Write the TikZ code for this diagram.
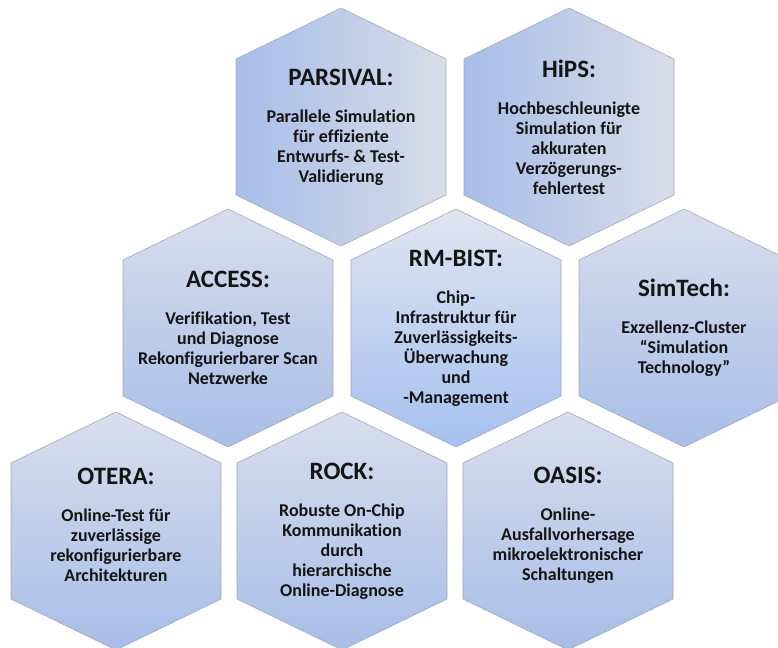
\documentclass[tikz,border=0pt]{standalone}
\usepackage{fontspec}
\setmainfont{Carlito}[Ligatures={NoCommon,NoRare}]
\usepackage{tikz}
\usetikzlibrary{positioning}
\definecolor{hexblue}{RGB}{168, 189, 232}
\definecolor{hexdeep}{RGB}{165, 192, 240}
\definecolor{hexlight}{RGB}{216, 222, 236}
\definecolor{hexgray}{RGB}{216, 221, 232}
\definecolor{hexedge}{RGB}{160, 168, 186}
\definecolor{hextext}{RGB}{20, 20, 20}
\newcommand{\hextitle}[1]{{\fontsize{25}{28}\selectfont #1}}
\tikzset{
  hexrow/.style={draw=hexedge, line width=0.6pt,
    left color=hexblue, right color=hexgray},
  hexcell/.style={draw=hexedge, line width=0.6pt,
    top color=hexlight, bottom color=hexblue},
  hexmain/.style={draw=hexedge, line width=0.6pt,
    top color=hexlight!80!white, bottom color=hexdeep},
  hexlabel/.style={align=center, text=hextext, inner sep=0pt,
    font=\fontsize{18}{20}\selectfont\bfseries}
}

\begin{document}
\begin{tikzpicture}[x=1pt, y=-1pt]
\useasboundingbox (0,0) rectangle (778,647);
% honeycomb: three rows, 228pt apart, rows shifted by half a cell
\foreach \cx/\cy/\look in {341/127/hexrow, 569/127/hexrow,
    228/328/hexcell, 456/328/hexmain, 684/328/hexcell,
    116/531/hexcell, 342/531/hexcell, 568/531/hexcell}
  \draw[\look] (\cx,\cy) ++(0,-119) -- ++(105,51) -- ++(0,136)
    -- ++(-105,51) -- ++(-105,-51) -- ++(0,-136) -- cycle;

\node (parsival) [hexlabel] at (341,127) {\hextitle{PARSIVAL:}\\[17pt]
  Parallele Simulation\\ für effiziente\\ Entwurfs- \& Test-\\ Validierung};
\node (hips)     [hexlabel] at (569,127) {\hextitle{HiPS:}\\[17pt]
  Hochbeschleunigte\\ Simulation für\\ akkuraten\\ Verzögerungs-\\ fehlertest};
\node (access)   [hexlabel] at (228,328) {\hextitle{ACCESS:}\\[17pt]
  Verifikation, Test\\ und Diagnose\\ Rekonfigurierbarer Scan\\ Netzwerke};
\node (rmbist)   [hexlabel] at (456,328) {\hextitle{RM-BIST:}\\[17pt]
  Chip-\\ Infrastruktur für\\ Zuverlässigkeits-\\ Überwachung\\ und\\ -Management};
\node (simtech)  [hexlabel] at (684,328) {\hextitle{SimTech:}\\[17pt]
  Exzellenz-Cluster\\ “Simulation\\ Technology”};
\node (otera)    [hexlabel] at (116,525) {\hextitle{OTERA:}\\[17pt]
  Online-Test für\\ zuverlässige\\ rekonfigurierbare\\ Architekturen};
\node (rock)     [hexlabel] at (342,531) {\hextitle{ROCK:}\\[17pt]
  Robuste On-Chip\\ Kommunikation\\ durch\\ hierarchische\\ Online-Diagnose};
\node (oasis)    [hexlabel] at (568,525) {\hextitle{OASIS:}\\[17pt]
  Online-\\ Ausfallvorhersage\\ mikroelektronischer\\ Schaltungen};
\end{tikzpicture}
\end{document}
